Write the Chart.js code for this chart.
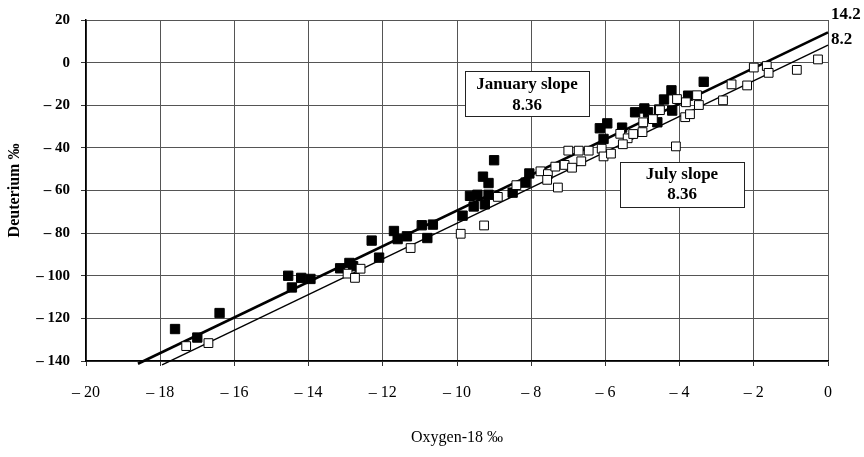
<!DOCTYPE html>
<html>
<head>
<meta charset="utf-8">
<script src="https://cdn.jsdelivr.net/npm/chart.js@4.4.1/dist/chart.umd.min.js"></script>
<style>
  html, body { margin: 0; padding: 0; background: #fff; }
  #wrap { width: 864px; height: 457px; }
</style>
</head>
<body>
<div id="wrap"><canvas id="c" width="864" height="457"></canvas></div>
<script>
// ---- data ----
const januaryO18 = [-17.6, -17.0, -16.4, -14.55, -14.45, -14.2, -13.95, -13.15, -12.9, -12.8,
  -12.3, -12.1, -11.7, -11.6, -11.35, -10.95, -10.65, -10.8, -9.85, -9.65,
  -9.55, -9.45, -9.3, -9.15, -9.25, -9.15, -9.0, -8.5, -8.15, -8.05,
  -6.15, -5.95, -5.55, -6.05, -5.2, -4.95, -4.85, -4.55, -4.6, -4.42,
  -4.22, -4.2, -3.77, -3.35];
const januaryD = [-125, -129, -117.5, -100, -105.5, -101, -101.5, -96.5, -94, -95.5,
  -83.5, -91.5, -79, -82.8, -81.5, -76.3, -76, -82.3, -71.8, -62.5,
  -67.5, -62, -53.5, -56.5, -66.5, -62, -45.8, -61, -56.3, -52,
  -30.8, -28.5, -30.5, -35.8, -23.3, -21.5, -23.3, -22, -28, -17.3,
  -13, -22.5, -15.5, -9];
const julyO18 = [-17.3, -16.7, -12.95, -12.75, -12.6, -11.25, -9.9, -9.27, -8.9, -8.4,
  -7.75, -7.55, -7.57, -7.35, -7.1, -6.9, -7.28, -7.0, -6.72, -6.65,
  -6.45, -6.1, -6.05, -5.85, -5.6, -5.4, -5.53, -5.25, -5.0, -4.98,
  -4.72, -4.53, -4.07, -3.83, -3.53, -3.48, -3.85, -3.72, -4.1, -2.83,
  -2.6, -2.18, -2.0, -1.65, -1.6, -0.84, -0.27];
const julyD = [-133, -131.6, -99, -101, -96.7, -87, -80.3, -76.4, -63, -57.5,
  -51, -52.3, -55, -48.8, -48, -49.3, -58.6, -41.3, -41.3, -46.3,
  -41.3, -40.4, -44, -42.7, -33.4, -35.5, -38.3, -33.5, -32.6, -28,
  -26.5, -22.3, -17.1, -18.6, -15.3, -19.9, -25.6, -24.2, -39.3, -17.7,
  -10.2, -10.7, -2.3, -1.6, -4.8, -3.4, 1.5];
// regression lines: [slope, intercept, x start, x end]
const januaryFit = [8.36, 14.2, -18.6, 0];
const julyFit = [8.36, 8.2, -17.95, 0];
const xTickLabels = ['– 20', '– 18', '– 16', '– 14', '– 12', '– 10', '– 8', '– 6', '– 4', '– 2', '0'];
const yTickLabels = ['– 140', '– 120', '– 100', '– 80', '– 60', '– 40', '– 20', '0', '20'];
const annotationTexts = [['January slope', '8.36'], ['July slope', '8.36']];
const interceptLabels = ['14.2', '8.2'];

const toPts = (xs, ys) => xs.map((x, i) => ({ x: x, y: ys[i] }));
const fitPts = f => [f[2], f[3]].map(x => ({ x: x, y: f[0] * x + f[1] }));

const SERIF = '"Liberation Serif", "Times New Roman", serif';

const overlay = {
  id: 'overlay',
  afterDatasetsDraw(chart) {
    const ctx = chart.ctx;
    const boxes = [
      { x1: 465, y1: 71, x2: 589, y2: 116, t: annotationTexts[0], o1: 14, o2: 35 },
      { x1: 620, y1: 162, x2: 744, y2: 207, t: annotationTexts[1], o1: 13, o2: 33 }
    ];
    ctx.save();
    boxes.forEach(b => {
      ctx.fillStyle = '#fff';
      ctx.fillRect(b.x1, b.y1, b.x2 - b.x1, b.y2 - b.y1);
      ctx.strokeStyle = '#222';
      ctx.lineWidth = 1;
      ctx.strokeRect(b.x1 + 0.5, b.y1 + 0.5, b.x2 - b.x1, b.y2 - b.y1);
      ctx.fillStyle = '#000';
      ctx.font = 'bold 17px ' + SERIF;
      ctx.textAlign = 'center';
      ctx.textBaseline = 'middle';
      const cx = (b.x1 + b.x2) / 2;
      ctx.fillText(b.t[0], cx, b.y1 + b.o1);
      ctx.fillText(b.t[1], cx, b.y1 + b.o2);
    });
    ctx.font = 'bold 17px ' + SERIF;
    ctx.textAlign = 'left';
    ctx.textBaseline = 'middle';
    ctx.fillStyle = '#000';
    ctx.fillText(interceptLabels[0], 831, 15);
    ctx.fillText(interceptLabels[1], 831, 40);
    ctx.restore();
  }
};

new Chart(document.getElementById('c'), {
  type: 'scatter',
  data: {
    datasets: [
      {
        label: 'July',
        data: toPts(julyO18, julyD),
        pointStyle: 'rect',
        pointRadius: 6.2,
        pointBackgroundColor: '#fff',
        pointBorderColor: '#000',
        pointBorderWidth: 1,
        order: 1
      },
      {
        label: 'January',
        data: toPts(januaryO18, januaryD),
        pointStyle: 'rect',
        pointRadius: 6.6,
        pointBackgroundColor: '#000',
        pointBorderColor: '#000',
        pointBorderWidth: 1,
        order: 2
      },
      {
        label: 'January fit',
        data: fitPts(januaryFit),
        showLine: true,
        borderColor: '#000',
        borderWidth: 2.6,
        pointRadius: 0,
        clip: false,
        order: 3
      },
      {
        label: 'July fit',
        data: fitPts(julyFit),
        showLine: true,
        borderColor: '#000',
        borderWidth: 1.4,
        pointRadius: 0,
        clip: false,
        order: 4
      }
    ]
  },
  options: {
    responsive: false,
    animation: false,
    events: [],
    layout: { padding: { top: 17, right: 36, left: 0, bottom: 0 } },
    plugins: {
      legend: { display: false },
      tooltip: { enabled: false }
    },
    scales: {
      x: {
        type: 'linear',
        min: -20, max: 0,
        afterFit: s => { s.height = 96; },
        ticks: {
          stepSize: 2,
          padding: 17,
          color: '#000',
          font: { family: SERIF, size: 16 },
          callback: (v, i) => xTickLabels[i]
        },
        grid: { color: '#555', lineWidth: 1, tickLength: 5, tickColor: '#333' },
        border: { color: '#000', width: 1.5 },
        title: {
          display: true,
          text: 'Oxygen-18 ‰',
          color: '#000',
          font: { family: SERIF, size: 16 },
          padding: { top: 4, bottom: 10 }
        }
      },
      y: {
        type: 'linear',
        min: -140, max: 20,
        afterFit: s => { s.width = 86; },
        ticks: {
          stepSize: 20,
          padding: 11,
          color: '#000',
          font: { family: SERIF, size: 15, weight: 'bold' },
          callback: (v, i) => yTickLabels[i]
        },
        grid: { color: '#555', lineWidth: 1, tickLength: 5, tickColor: '#333' },
        border: { color: '#000', width: 1.5 },
        title: {
          display: true,
          text: 'Deuterium ‰',
          color: '#000',
          font: { family: SERIF, size: 16, weight: 'bold' },
          padding: { top: 5, bottom: 0 }
        }
      }
    }
  },
  plugins: [overlay]
});
</script>
</body>
</html>
